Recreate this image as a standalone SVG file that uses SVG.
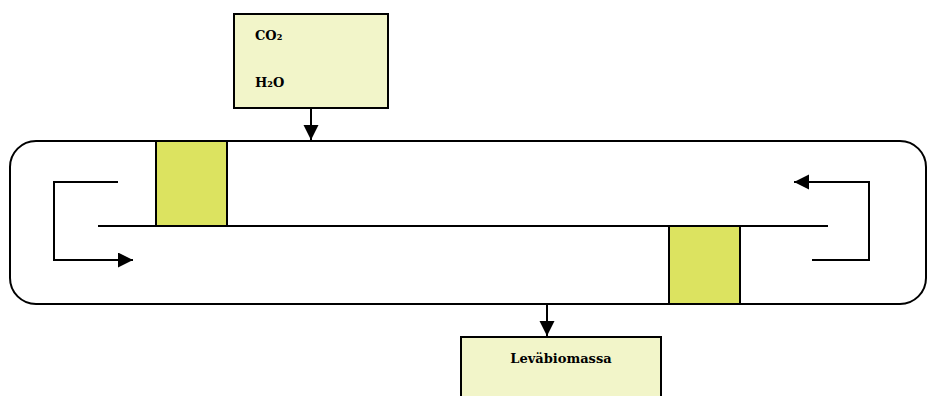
<svg xmlns="http://www.w3.org/2000/svg" width="928" height="396" viewBox="0 0 928 396">
<style>
.box{fill:#F2F5C9;stroke:#000;stroke-width:2}
.pad{fill:#DCE360;stroke:#000;stroke-width:2}
.ln{fill:none;stroke:#000;stroke-width:2}
.t{font-family:"DejaVu Serif","Liberation Serif",serif;font-weight:bold;font-size:13px;fill:#000}
</style>
<defs>
<marker id="ah" markerUnits="userSpaceOnUse" markerWidth="16" markerHeight="16" refX="15" refY="7.5" orient="auto">
<path d="M0,0 L15,7.5 L0,15 z" fill="#000"/>
</marker>
</defs>
<g id="tank">
<rect class="ln" x="10" y="141" width="916" height="163" rx="26" ry="26"/>
<line class="ln" x1="98" y1="226" x2="828" y2="226"/>
</g>
<g id="paddle-left"><rect class="pad" x="156" y="141" width="71" height="85"/></g>
<g id="paddle-right"><rect class="pad" x="669" y="226" width="71" height="78"/></g>
<g id="inputs">
<rect class="box" x="234" y="14" width="154" height="94"/>
<text class="t" x="255" y="40">CO₂</text>
<text class="t" x="255" y="87">H₂O</text>
</g>
<g id="output">
<rect class="box" x="461" y="337" width="200" height="70"/>
<text class="t" x="561" y="363" text-anchor="middle">Leväbiomassa</text>
</g>
<g id="connectors">
<line class="ln" x1="311" y1="108" x2="311" y2="140" marker-end="url(#ah)"/>
<line class="ln" x1="547" y1="304" x2="547" y2="336" marker-end="url(#ah)"/>
<polyline class="ln" points="118,182 54,182 54,260 133,260" marker-end="url(#ah)"/>
<polyline class="ln" points="812,260 869,260 869,182 794,182" marker-end="url(#ah)"/>
</g>
</svg>
